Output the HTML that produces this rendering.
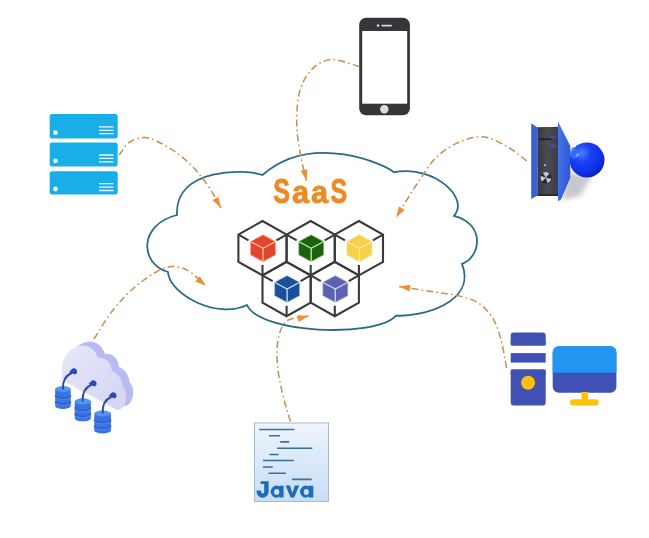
<!DOCTYPE html>
<html><head><meta charset="utf-8"><style>
html,body{margin:0;padding:0;background:#fff;}
svg{display:block;filter:blur(0.3px);}
</style></head><body>
<svg width="649" height="538" viewBox="0 0 649 538">
<defs>
<linearGradient id="docg" x1="0" y1="0" x2="0" y2="1">
<stop offset="0" stop-color="#eef4fc"/><stop offset="1" stop-color="#c7ddf6"/>
</linearGradient>
<radialGradient id="ballg" cx="0.4" cy="0.35" r="0.65">
<stop offset="0" stop-color="#3a6bff"/><stop offset="0.5" stop-color="#0a2ef0"/><stop offset="1" stop-color="#0418a8"/>
</radialGradient>
<linearGradient id="panelg" x1="0" y1="0" x2="1" y2="0">
<stop offset="0" stop-color="#3c66e0"/><stop offset="1" stop-color="#2a4fd0"/>
</linearGradient>
</defs>
<rect width="649" height="538" fill="#fff"/>
<!-- cloud -->
<path d="M177.0 215.0 C174.7 166.6 247.1 169.1 262.5 175.0 C312.4 131.0 385.9 165.1 393.7 172.2 C434.4 164.4 469.9 198.5 454.0 215.8 C487.3 224.6 479.4 258.5 462.0 263.8 C477.2 302.9 420.6 317.3 396.0 315.6 C375.6 338.4 259.0 333.5 247.0 305.0 C217.2 319.6 169.3 294.6 168.0 272.0 C139.7 263.7 138.2 224.7 177.0 215.0 Z" fill="#fff" stroke="#2b6a84" stroke-width="1.8"/>
<!-- phone -->
<rect x="359.2" y="17.8" width="50.7" height="97.5" rx="7" fill="#35353a"/>
<rect x="362.2" y="31" width="45" height="72.7" fill="#fff"/>
<circle cx="378" cy="25.6" r="1.3" fill="#d8d8d8"/>
<rect x="381.3" y="24.8" width="10.7" height="1.6" rx="0.8" fill="#d8d8d8"/>
<circle cx="384.3" cy="109.3" r="4.2" fill="#dcdcdc"/>
<!-- servers left -->
<g fill="#1aaee8">
<rect x="49.7" y="114" width="68" height="24.6" rx="2.5"/>
<rect x="49.7" y="142.5" width="68" height="24" rx="2.5"/>
<rect x="49.7" y="171.2" width="68" height="23.3" rx="2.5"/>
</g>
<g fill="#e9f8ff">
<circle cx="55.5" cy="132.7" r="2.4"/><circle cx="55.5" cy="160.8" r="2.4"/><circle cx="55.5" cy="189" r="2.4"/>
</g>
<g stroke="#e9f8ff" stroke-width="1.3">
<path d="M99 126.9h14.5M99 130.3h14.5M99 133.7h14.5"/>
<path d="M99 155h14.5M99 158.4h14.5M99 161.8h14.5"/>
<path d="M99 183.7h14.5M99 187.1h14.5M99 190.5h14.5"/>
</g>
<!-- right server with ball -->
<defs>
<linearGradient id="towerg" x1="0" y1="0" x2="1" y2="0">
<stop offset="0" stop-color="#383840"/><stop offset="0.5" stop-color="#4a4a54"/><stop offset="1" stop-color="#3c3c44"/>
</linearGradient>
<linearGradient id="doorg" x1="0" y1="0" x2="1" y2="0.3">
<stop offset="0" stop-color="#4a78e8"/><stop offset="1" stop-color="#2f58d6"/>
</linearGradient>
<radialGradient id="ballg2" cx="0.35" cy="0.3" r="0.75">
<stop offset="0" stop-color="#4a80ff"/><stop offset="0.35" stop-color="#1a42f4"/><stop offset="0.78" stop-color="#0f2ee6"/><stop offset="1" stop-color="#0a20b4"/>
</radialGradient>
<filter id="blur2" x="-50%" y="-50%" width="200%" height="200%"><feGaussianBlur stdDeviation="2.5"/></filter>
</defs>
<polygon points="531.2,123.2 537.5,127.6 537.5,195.6 531.2,199" fill="#3b5fd6"/>
<polygon points="537.5,127.8 558,126.8 558,128.5 537.5,129" fill="#2a2a32"/>
<rect x="537.5" y="127.2" width="20.5" height="68.4" fill="url(#towerg)"/>
<rect x="537.5" y="194" width="20.5" height="2" fill="#2a2a30"/>
<rect x="539" y="138.6" width="13.5" height="1.4" fill="#1c1c24"/>
<rect x="539" y="134" width="17" height="0.8" fill="#4a4a56"/>
<rect x="539" y="143" width="17" height="0.8" fill="#4a4a56"/>
<rect x="539" y="147" width="17" height="0.8" fill="#4a4a56"/>
<rect x="550" y="136" width="6" height="2.5" fill="#4550a8" opacity="0.8"/>
<rect x="550" y="144.5" width="6" height="2.5" fill="#4550a8" opacity="0.8"/>
<circle cx="545" cy="165.2" r="0.9" fill="#e0e0e0"/>
<circle cx="546" cy="177.8" r="5.6" fill="#26262c"/>
<path d="M546 177.8 L542.8 173 A5.2 5.2 0 0 1 549.4 173.5Z M546 177.8 L551.1 178.8 A5.2 5.2 0 0 1 547.3 182.9Z M546 177.8 L542.2 181.4 A5.2 5.2 0 0 1 540.9 176Z" fill="#c4c6d0"/>
<polygon points="566,172 592,176 580,196 563,200" fill="#9a9aa4" opacity="0.55" filter="url(#blur2)"/>
<circle cx="587" cy="160" r="17.5" fill="url(#ballg2)"/>
<ellipse cx="574" cy="153" rx="4" ry="6" fill="#3f74f4" opacity="0.75"/>
<ellipse cx="577.5" cy="155" rx="2.2" ry="1.1" fill="#a8c0ff" opacity="0.7" transform="rotate(-40 577.5 155)"/>
<polygon points="558,121.5 570.3,146 570.3,177.5 561,199.5 558,201.2" fill="url(#doorg)"/>
<!-- cloud storage -->
<defs><linearGradient id="csg" x1="0" y1="0" x2="1" y2="1"><stop offset="0" stop-color="#e6e7f9"/><stop offset="1" stop-color="#d3d5f4"/></linearGradient></defs>
<path transform="translate(7,-4)" d="M62 380 L62 367 C62 357 70 347 82 345.5 C90 345 96 351 98 358 C105 357 111 362 112 371 C118 373 122 379 122.5 386 C126 390 127 396 125.5 402 C124 407 121 410 117 410 Z" fill="#b7bbef"/>
<path d="M62 380 L62 367 C62 357 70 347 82 345.5 C90 345 96 351 98 358 C105 357 111 362 112 371 C118 373 122 379 122.5 386 C126 390 127 396 125.5 402 C124 407 121 410 117 410 Z" fill="url(#csg)"/>

<g fill="none" stroke="#2d47b8" stroke-width="2" stroke-linecap="round">
<path d="M63 389 C62.5 381 66 375.5 71.5 373"/>
<path d="M82.7 401 C82.2 393 85.5 387.5 91 385"/>
<path d="M102.7 413 C102.2 405 105.5 399.5 111 397"/>
</g>
<g fill="#2d47b8">
<path d="M69 372 L72.5 368.5 A3 3 0 0 1 75 374.5 Z"/>
<path d="M88.5 384 L92 380.5 A3 3 0 0 1 94.5 386.5 Z"/>
<path d="M108.5 396 L112 392.5 A3 3 0 0 1 114.5 398.5 Z"/>
</g>
<g id="dbs">
<path d="M55.2 389 V406 A7.75 3 0 0 0 70.7 406 V389 Z" fill="#3a72e0"/>
<path d="M55.2 395 A7.75 3 0 0 0 70.7 395" fill="none" stroke="#2f5cd0" stroke-width="1.3"/>
<path d="M55.2 401 A7.75 3 0 0 0 70.7 401" fill="none" stroke="#2f5cd0" stroke-width="1.3"/>
<path d="M55.2 396.5 A7.75 3 0 0 0 70.7 396.5" fill="none" stroke="#4a86ea" stroke-width="1.2"/>
<path d="M55.2 402.5 A7.75 3 0 0 0 70.7 402.5" fill="none" stroke="#4a86ea" stroke-width="1.2"/>
<ellipse cx="62.95" cy="389" rx="7.75" ry="3" fill="#4f97f0"/>
<path d="M74.8 401.3 V418.3 A8.0 3 0 0 0 90.8 418.3 V401.3 Z" fill="#3a72e0"/>
<path d="M74.8 407.3 A8.0 3 0 0 0 90.8 407.3" fill="none" stroke="#2f5cd0" stroke-width="1.3"/>
<path d="M74.8 413.3 A8.0 3 0 0 0 90.8 413.3" fill="none" stroke="#2f5cd0" stroke-width="1.3"/>
<path d="M74.8 408.8 A8.0 3 0 0 0 90.8 408.8" fill="none" stroke="#4a86ea" stroke-width="1.2"/>
<path d="M74.8 414.8 A8.0 3 0 0 0 90.8 414.8" fill="none" stroke="#4a86ea" stroke-width="1.2"/>
<ellipse cx="82.8" cy="401.3" rx="8.0" ry="3" fill="#4f97f0"/>
<path d="M94.3 413.5 V430.5 A8.3 3 0 0 0 110.9 430.5 V413.5 Z" fill="#3a72e0"/>
<path d="M94.3 419.5 A8.3 3 0 0 0 110.9 419.5" fill="none" stroke="#2f5cd0" stroke-width="1.3"/>
<path d="M94.3 425.5 A8.3 3 0 0 0 110.9 425.5" fill="none" stroke="#2f5cd0" stroke-width="1.3"/>
<path d="M94.3 421.0 A8.3 3 0 0 0 110.9 421.0" fill="none" stroke="#4a86ea" stroke-width="1.2"/>
<path d="M94.3 427.0 A8.3 3 0 0 0 110.9 427.0" fill="none" stroke="#4a86ea" stroke-width="1.2"/>
<ellipse cx="102.6" cy="413.5" rx="8.3" ry="3" fill="#4f97f0"/>
</g>
<g fill="none" stroke="#2d47b8" stroke-width="2">
<path d="M63 389.5 V386"/><path d="M82.7 401.5 V398"/><path d="M102.7 413.5 V410"/>
</g>
<!-- java doc -->
<rect x="254.5" y="423" width="74" height="78.5" fill="url(#docg)" stroke="#a9bccc" stroke-width="1"/>
<g stroke="#3d6f98" stroke-width="1.6">
<path d="M259.2 429.5H294.4M269 435.7H280M280.2 441.9H289.2M277 448.3H312.3M269.5 454.5H278.6M263 460.5H293.8M263 467H272.8M268.5 473.2H285.8M292 479.4H311.7"/>
</g>
<g fill="#1e6bb8">
<path d="M260.6 481.2 H268.6 V491.8 A6 6 0 0 1 256.6 491.8 V490.5 H261 V491.8 A1.6 1.6 0 0 0 264.2 491.8 V484 H260.6 Z"/>
<path fill-rule="evenodd" d="M283.6 485.8 V497.5 H279.4 V496.6 A5.6 5.9 0 1 1 279.4 486.6 V485.8 Z M276.7 489 A2.6 2.9 0 1 0 276.7 494.8 A2.6 2.9 0 1 0 276.7 489 Z"/>
<path d="M285.6 485.6 H290 L292.4 493 L294.8 485.6 H299.2 L294.2 497.6 H290.6 Z"/>
<path fill-rule="evenodd" d="M313.3 485.8 V497.5 H309 V496.6 A5.8 5.9 0 1 1 309 486.6 V485.8 Z M306.3 489 A2.5 2.9 0 1 0 306.3 494.8 A2.5 2.9 0 1 0 306.3 489 Z"/>
</g>
<!-- desktop -->
<rect x="510.7" y="332.6" width="35" height="12.9" rx="3" fill="#3f51b5"/>
<rect x="510.7" y="341" width="35" height="4.5" fill="#3f51b5"/>
<rect x="510.7" y="353.1" width="35" height="9.5" fill="#3f51b5"/>
<rect x="510.7" y="369.5" width="35" height="36" rx="3" fill="#3f51b5"/>
<rect x="510.7" y="369.5" width="35" height="5" fill="#3f51b5"/>
<circle cx="528.1" cy="382.7" r="7" fill="#ffc107"/>
<rect x="552.7" y="346.3" width="63.7" height="46.4" rx="6" fill="#3f51b5"/>
<path d="M552.7 372.8V352.3a6 6 0 0 1 6-6h51.7a6 6 0 0 1 6 6V372.8Z" fill="#2196f3"/>
<rect x="581.5" y="392" width="6.4" height="8" fill="#ffc107"/>
<rect x="570" y="399.2" width="28.7" height="6.3" rx="3.1" fill="#ffc107"/>
<!-- arrows -->
<path d="M119.0 155.0 C122.7 150.7 125.5 144.9 130.0 142.0 C134.3 139.2 139.6 137.3 145.0 137.6 C151.5 137.9 159.0 142.1 166.0 146.0 C174.0 150.5 182.9 157.2 190.0 164.0 C197.0 170.7 203.2 178.9 208.5 186.5 C213.4 193.6 216.8 200.8 221.0 208.0" fill="none" stroke="#c98d4c" stroke-width="1.5" stroke-dasharray="7 3.2 1.6 3.2"/>
<path d="M221.0 208.0 L212.5 200.2 L218.4 196.8 Z" fill="#ec8f34"/>
<path d="M359.4 66.5 C349.6 64.2 338.3 58.5 330.0 59.5 C323.5 60.3 318.1 63.7 313.4 67.9 C308.2 72.6 303.7 79.5 300.9 87.4 C297.4 97.3 296.6 111.8 296.7 123.6 C296.8 135.0 299.1 146.9 300.9 157.0 C302.5 165.6 304.6 172.8 306.5 180.7" fill="none" stroke="#c98d4c" stroke-width="1.5" stroke-dasharray="7 3.2 1.6 3.2"/>
<path d="M306.5 180.7 L300.7 170.8 L307.3 169.2 Z" fill="#ec8f34"/>
<path d="M526.7 160.8 C520.5 156.3 515.1 151.2 508.2 147.3 C500.8 143.1 491.8 137.7 483.5 136.9 C475.4 136.2 466.6 139.0 458.9 142.3 C451.0 145.7 443.4 150.6 436.7 157.0 C429.2 164.1 423.5 174.4 417.0 184.0 C409.9 194.4 403.0 206.3 396.0 217.5" fill="none" stroke="#c98d4c" stroke-width="1.5" stroke-dasharray="7 3.2 1.6 3.2"/>
<path d="M396.0 217.5 L399.0 206.4 L404.7 210.0 Z" fill="#ec8f34"/>
<path d="M93.9 339.0 C100.8 328.6 107.1 317.1 114.7 307.8 C121.8 299.1 129.7 291.2 137.8 284.7 C145.2 278.7 154.3 272.5 160.9 269.6 C165.2 267.7 168.4 266.7 172.4 266.6 C176.8 266.5 181.6 267.3 186.3 269.6 C192.7 272.7 199.4 280.4 206.0 285.8" fill="none" stroke="#c98d4c" stroke-width="1.5" stroke-dasharray="7 3.2 1.6 3.2"/>
<path d="M206.0 285.8 L195.3 281.4 L199.7 276.2 Z" fill="#ec8f34"/>
<path d="M290.4 421.5 C287.8 412.3 284.8 403.5 282.6 394.0 C280.3 384.0 277.9 372.9 277.3 363.0 C276.8 354.0 276.6 344.3 278.6 336.9 C280.2 330.8 282.1 324.7 286.5 321.2 C291.5 317.3 301.2 317.8 308.6 316.0" fill="none" stroke="#c98d4c" stroke-width="1.5" stroke-dasharray="7 3.2 1.6 3.2"/>
<path d="M308.6 316.0 L298.7 321.9 L297.1 315.2 Z" fill="#ec8f34"/>
<path d="M506.6 368.0 C504.5 357.8 503.1 346.5 500.4 337.5 C498.1 329.9 495.9 322.9 492.0 317.0 C488.3 311.4 483.6 306.2 478.0 302.7 C472.2 299.0 464.9 297.4 457.5 295.6 C449.3 293.6 440.2 293.0 431.0 291.5 C420.9 289.9 409.8 288.1 399.2 286.4" fill="none" stroke="#c98d4c" stroke-width="1.5" stroke-dasharray="7 3.2 1.6 3.2"/>
<path d="M399.2 286.4 L410.6 284.8 L409.5 291.5 Z" fill="#ec8f34"/>

<!-- cubes -->
<path d="M262.50 221.00 L286.60 234.60 L286.60 261.80 L262.50 275.40 L238.40 261.80 L238.40 234.60Z" fill="none" stroke="#3a3a3a" stroke-width="2.1" stroke-linejoin="miter"/>
<path d="M238.40 234.60 l10.13 5.72 M286.60 234.60 l-10.13 5.72 M262.50 275.40 l0 -10.40" stroke="#3a3a3a" stroke-width="2.1" fill="none"/>
<path d="M263.00 234.70 L275.60 241.45 L275.60 254.95 L263.00 261.70 L250.40 254.95 L250.40 241.45Z" fill="#e5452c" stroke="#ffc0a8" stroke-width="1.2" stroke-opacity="0.5"/>
<path d="M250.40 241.45 L263.00 248.20 L275.60 241.45 M263.00 248.20 L263.00 261.70" stroke="#ffc0a8" stroke-width="1.3" fill="none"/><path d="M310.70 221.00 L334.80 234.60 L334.80 261.80 L310.70 275.40 L286.60 261.80 L286.60 234.60Z" fill="none" stroke="#3a3a3a" stroke-width="2.1" stroke-linejoin="miter"/>
<path d="M286.60 234.60 l10.13 5.72 M334.80 234.60 l-10.13 5.72 M310.70 275.40 l0 -10.40" stroke="#3a3a3a" stroke-width="2.1" fill="none"/>
<path d="M311.20 234.70 L323.80 241.45 L323.80 254.95 L311.20 261.70 L298.60 254.95 L298.60 241.45Z" fill="#1f5f10" stroke="#b4f59a" stroke-width="1.2" stroke-opacity="0.5"/>
<path d="M298.60 241.45 L311.20 248.20 L323.80 241.45 M311.20 248.20 L311.20 261.70" stroke="#b4f59a" stroke-width="1.3" fill="none"/><path d="M358.90 221.00 L383.00 234.60 L383.00 261.80 L358.90 275.40 L334.80 261.80 L334.80 234.60Z" fill="none" stroke="#3a3a3a" stroke-width="2.1" stroke-linejoin="miter"/>
<path d="M334.80 234.60 l10.13 5.72 M383.00 234.60 l-10.13 5.72 M358.90 275.40 l0 -10.40" stroke="#3a3a3a" stroke-width="2.1" fill="none"/>
<path d="M359.40 234.70 L372.00 241.45 L372.00 254.95 L359.40 261.70 L346.80 254.95 L346.80 241.45Z" fill="#f6d04a" stroke="#fde9a0" stroke-width="1.2" stroke-opacity="0.5"/>
<path d="M346.80 241.45 L359.40 248.20 L372.00 241.45 M359.40 248.20 L359.40 261.70" stroke="#fde9a0" stroke-width="1.3" fill="none"/><path d="M286.60 261.80 L310.70 275.40 L310.70 302.60 L286.60 316.20 L262.50 302.60 L262.50 275.40Z" fill="none" stroke="#3a3a3a" stroke-width="2.1" stroke-linejoin="miter"/>
<path d="M262.50 275.40 l10.13 5.72 M310.70 275.40 l-10.13 5.72 M286.60 316.20 l0 -10.40" stroke="#3a3a3a" stroke-width="2.1" fill="none"/>
<path d="M287.10 275.50 L299.70 282.25 L299.70 295.75 L287.10 302.50 L274.50 295.75 L274.50 282.25Z" fill="#1b4f99" stroke="#bfe6ff" stroke-width="1.2" stroke-opacity="0.5"/>
<path d="M274.50 282.25 L287.10 289.00 L299.70 282.25 M287.10 289.00 L287.10 302.50" stroke="#bfe6ff" stroke-width="1.3" fill="none"/><path d="M334.80 261.80 L358.90 275.40 L358.90 302.60 L334.80 316.20 L310.70 302.60 L310.70 275.40Z" fill="none" stroke="#3a3a3a" stroke-width="2.1" stroke-linejoin="miter"/>
<path d="M310.70 275.40 l10.13 5.72 M358.90 275.40 l-10.13 5.72 M334.80 316.20 l0 -10.40" stroke="#3a3a3a" stroke-width="2.1" fill="none"/>
<path d="M335.30 275.50 L347.90 282.25 L347.90 295.75 L335.30 302.50 L322.70 295.75 L322.70 282.25Z" fill="#5c63ad" stroke="#d0d6ff" stroke-width="1.2" stroke-opacity="0.5"/>
<path d="M322.70 282.25 L335.30 289.00 L347.90 282.25 M335.30 289.00 L335.30 302.50" stroke="#d0d6ff" stroke-width="1.3" fill="none"/>
<!-- SaaS -->
<g font-family="Liberation Sans" font-weight="bold" fill="#ee8a24" stroke="#ee8a24" stroke-width="0.8">
<text transform="translate(273.25 202.66) scale(0.73 1)" font-size="34.3">S</text>
<text transform="translate(291.9 202.7) scale(0.99 1)" font-size="31">a</text>
<text transform="translate(311.1 202.7) scale(0.99 1)" font-size="31">a</text>
<text transform="translate(330.55 202.66) scale(0.73 1)" font-size="34.3">S</text>
</g>
</svg>
</body></html>
